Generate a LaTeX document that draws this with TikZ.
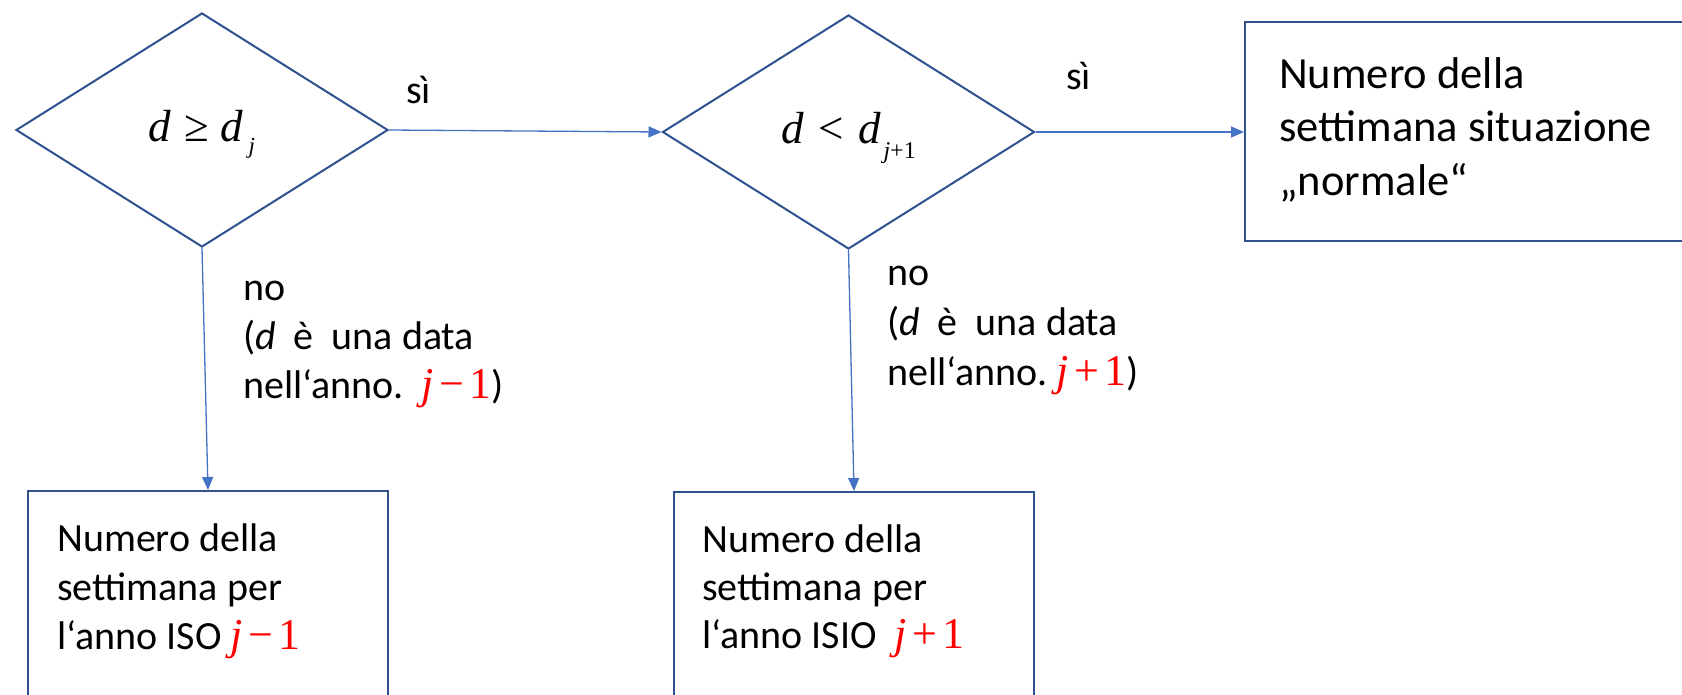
\documentclass[tikz,border=0pt]{standalone}
\usepackage{fontspec}
\setmainfont{Carlito}
\newfontfamily\tnr{Liberation Serif}
\usetikzlibrary{shapes.geometric,arrows.meta}
\definecolor{boxblue}{HTML}{2F528F}
\definecolor{arrblue}{HTML}{4472C4}
\definecolor{mred}{HTML}{FF0000}
\newcommand\fs[2]{\fontsize{#1}{#2}\selectfont}
\newcommand\redm[1]{{\tnr\color{mred}\fs{44}{44}#1}}
\newcommand\vlines[2]{\vtop{\baselineskip=#1\relax #2}}
\begin{document}
\begin{tikzpicture}[x=1pt,y=-1pt,
  decision/.style={diamond, draw=boxblue, line width=2pt, inner sep=0pt,
    text height=31pt, text depth=9pt, minimum width=372pt, minimum height=234pt},
  outbox/.style={rectangle, draw=boxblue, line width=2pt, inner sep=0pt},
  flow/.style={draw=arrblue, line width=1.3pt, -{Triangle[length=13pt,width=11pt]}},
  txt/.style={anchor=base west, inner sep=0pt, font=\fs{40}{49}},
]
\useasboundingbox (0,0) rectangle (1682,694);
\clip (0,0) rectangle (1682,694);
\fill[white] (0,0) rectangle (1682,694);

% decisions
\node[decision] (d1) at (202,130)
  {\tnr\fs{45}{45}\itshape d\hspace{0.3em}\upshape ≥\hspace{0.25em}\itshape d\hspace{0.12em}\raisebox{-12pt}{\fs{23}{23}j}};
\node[decision] (d2) at (848.5,132)
  {\tnr\fs{45}{45}\itshape d\hspace{0.33em}\upshape <\hspace{0.33em}\itshape d\hspace{0.05em}\raisebox{-15pt}{\fs{24}{24}\itshape j\upshape +1}};

% result boxes
\node[outbox, minimum width=360pt, minimum height=229pt] (b1) at (208,605.5) {};
\node[outbox, minimum width=360pt, minimum height=229pt] (b2) at (854,606.5) {};
\node[outbox, minimum width=455pt, minimum height=219pt] (b3) at (1472.5,131.5) {};

% box texts
\node[txt] (t1) at (57,551) {\vlines{49pt}{\hbox{Numero della}\hbox{settimana per}\hbox{l‘anno ISO \redm{\itshape j\hspace{0.12em}\upshape −\hspace{0.12em}1}}}};
\node[txt] (t2) at (702,552) {\vlines{48pt}{\hbox{Numero della}\hbox{settimana per}\hbox{l‘anno ISIO\ \ \redm{\itshape j\hspace{0.12em}\upshape +\hspace{0.12em}1}}}};
\node[txt, font=\fs{44.5}{53.5}] (t3) at (1279,88) {\vlines{53.5pt}{\hbox{Numero della}\hbox{settimana situazione}\hbox{„normale“}}};

% edge labels
\node[txt] (s1) at (406,103) {sì};
\node[txt] (s2) at (1066,89) {sì};
\node[txt] (n1) at (243,300) {\vlines{49pt}{\hbox{no}\hbox{(\textit{d}\ \ è\ \ una data}\hbox{nell‘anno.\ \ \redm{\itshape j\hspace{0.12em}\upshape −\hspace{0.12em}1})}}};
\node[txt] (n2) at (887,285) {\vlines{50pt}{\hbox{no}\hbox{(\textit{d}\ \ è\ \ una data}\hbox{nell‘anno.\ \redm{\itshape j\hspace{0.12em}\upshape +\hspace{0.12em}1})}}};

% connectors
\draw[flow] (d1.east) -- (d2.west);
\draw[flow] (d2.east) -- (d2.east -| b3.west);
\draw[flow] (d1.south) -- (b1.north);
\draw[flow] (d2.south) -- (b2.north);
\end{tikzpicture}
\end{document}
